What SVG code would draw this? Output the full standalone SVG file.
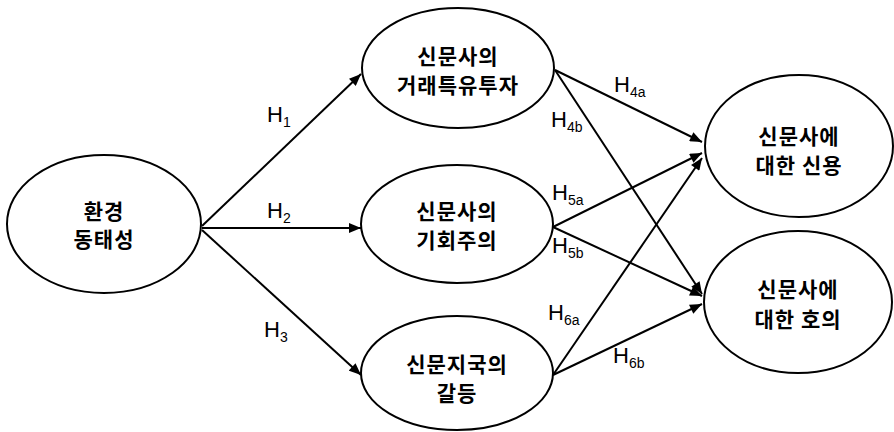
<svg xmlns="http://www.w3.org/2000/svg" width="894" height="432" viewBox="0 0 894 432">
<defs>
<marker id="arr" viewBox="0 0 12 10" refX="12" refY="5" markerWidth="13" markerHeight="10" markerUnits="userSpaceOnUse" orient="auto">
<path d="M0,0 L12,5 L0,10 Z" fill="#000"/>
</marker>
</defs>
<style>
.node ellipse{fill:#fff;stroke:#000;stroke-width:2}
.node text{font-family:"Noto Sans CJK KR","Noto Sans",sans-serif;font-size:21px;font-weight:bold;text-anchor:middle;fill:#000;letter-spacing:1px}
.edges line{stroke:#000;stroke-width:2;marker-end:url(#arr)}
.lbl{font-family:"Liberation Sans",Arial,sans-serif;font-size:22px;fill:#000}
.sub{font-size:14px}
</style>
<rect width="894" height="432" fill="#fff"/>
<g class="edges">
<line x1="202" y1="226" x2="361" y2="74"/>
<line x1="202" y1="228" x2="361" y2="228"/>
<line x1="202" y1="230" x2="361" y2="375"/>
<line x1="555" y1="70" x2="702" y2="142"/>
<line x1="555" y1="70" x2="702" y2="294"/>
<line x1="553" y1="227" x2="702" y2="153"/>
<line x1="553" y1="227" x2="702" y2="296"/>
<line x1="553" y1="375" x2="702" y2="158"/>
<line x1="553" y1="375" x2="702" y2="304"/>
</g>
<g id="n1" class="node"><ellipse cx="104" cy="224" rx="97" ry="69"/><text x="104" y="219">환경</text><text x="104" y="247">동태성</text></g>
<g id="n2" class="node"><ellipse cx="458" cy="68" rx="96" ry="60"/><text x="458" y="64">신문사의</text><text x="458" y="93">거래특유투자</text></g>
<g id="n3" class="node"><ellipse cx="457" cy="224" rx="96" ry="59"/><text x="457" y="219">신문사의</text><text x="457" y="248">기회주의</text></g>
<g id="n4" class="node"><ellipse cx="457" cy="373" rx="96" ry="57"/><text x="457" y="372">신문지국의</text><text x="457" y="401">갈등</text></g>
<g id="n5" class="node"><ellipse cx="799" cy="146" rx="94" ry="71"/><text x="799" y="144">신문사에</text><text x="799" y="173">대한 신용</text></g>
<g id="n6" class="node"><ellipse cx="798" cy="302" rx="94" ry="71"/><text x="798" y="297">신문사에</text><text x="798" y="327">대한 호의</text></g>
<g id="labels">
<text class="lbl" x="267" y="122">H<tspan class="sub" dy="5">1</tspan></text>
<text class="lbl" x="267" y="218">H<tspan class="sub" dy="5">2</tspan></text>
<text class="lbl" x="264" y="337">H<tspan class="sub" dy="5">3</tspan></text>
<text class="lbl" x="614" y="92">H<tspan class="sub" dy="5">4a</tspan></text>
<text class="lbl" x="551" y="127">H<tspan class="sub" dy="5">4b</tspan></text>
<text class="lbl" x="552" y="200">H<tspan class="sub" dy="5">5a</tspan></text>
<text class="lbl" x="552" y="253">H<tspan class="sub" dy="5">5b</tspan></text>
<text class="lbl" x="548" y="320">H<tspan class="sub" dy="5">6a</tspan></text>
<text class="lbl" x="613" y="363">H<tspan class="sub" dy="5">6b</tspan></text>
</g>
</svg>
